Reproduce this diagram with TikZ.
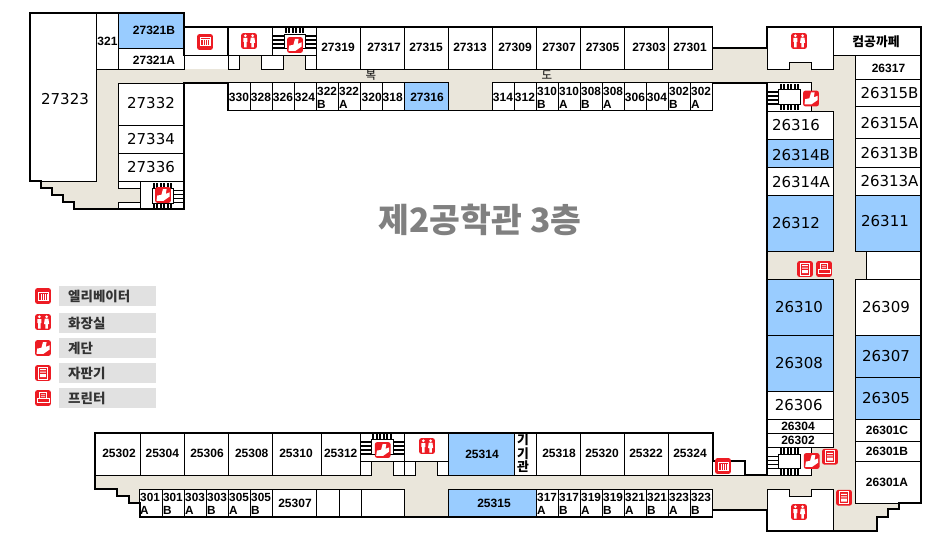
\documentclass[tikz,border=0pt]{standalone}
\usepackage{fontspec}
\setmainfont{Liberation Sans}
\newfontfamily\bigf{DejaVu Sans}
\newfontfamily\kr{Noto Sans CJK KR}
\definecolor{corr}{HTML}{EAE6DB}
\definecolor{blu}{HTML}{99CCFF}
\definecolor{ired}{HTML}{ED1C24}
\definecolor{leg}{HTML}{E1E1E1}
\definecolor{ttl}{HTML}{808080}
\tikzset{
  x=1pt,y=-1pt,
  wall/.style={draw=black,line width=1.7pt,line join=miter},
  rm/.style={draw=black,line width=0.9pt,fill=white},
  rb/.style={draw=black,line width=0.9pt,fill=blu},
  cor/.style={fill=corr,draw=none},
  big/.style={inner sep=0,font=\bigf\fontsize{15}{15}\selectfont},
  bld/.style={inner sep=0,font=\bfseries\fontsize{12}{12}\selectfont},
  two/.style={inner sep=0,anchor=west,font=\bfseries\fontsize{11.8}{12}\selectfont},
  krs/.style={inner sep=0,font=\kr\fontsize{11.5}{12}\selectfont},
  krb/.style={inner sep=0,font=\kr\bfseries\fontsize{12.8}{13}\selectfont},
  lgt/.style={inner sep=0,anchor=west,text=black!80,font=\kr\bfseries\fontsize{13.5}{14}\selectfont},
  title/.style={inner sep=0,text=ttl,font=\kr\bfseries\fontsize{33.5}{36}\selectfont},
  redbg/.style={fill=ired,draw=none,rounded corners=2pt},
  wg/.style={draw=white,line width=1pt},
  wf/.style={fill=white,draw=none}
}
\newcommand{\rr}[5]{\path[#1] (#2,#3) rectangle (#4,#5);}
\newcommand{\lab}[5]{\node[#4] (#1) at (#2,#3) {#5};}
\newcommand{\redsq}{\path[redbg] (-7.8,-7.8) rectangle (7.8,7.8);}
\newcommand{\icoElev}[2]{\begin{scope}[shift={(#1,#2)}]\redsq
  \path[wf] (-5.5,-4.5) rectangle (5.5,4.5);
  \path[fill=ired] (-4.5,-3.5) rectangle (4.5,-2.6);
  \foreach \u in {-3.6,-1.4,0.8,3}{\path[fill=ired] (\u,-2) rectangle +(1.1,5.5);}
  \end{scope}}
\newcommand{\icoWc}[2]{\begin{scope}[shift={(#1,#2)}]\redsq
  \path[wf] (-3.6,-5.2) circle (1.5) (3.6,-5.2) circle (1.5);
  \path[wf] (-5.6,-3) rectangle (-1.6,1) (-4.8,1) rectangle (-2.4,6.5);
  \path[wf] (3.6,-3.4) -- (5.4,-3.4) -- (6.2,2) -- (4.8,2) -- (4.8,6.5) -- (2.4,6.5) -- (2.4,2) -- (1,2) -- (1.8,-3.4) -- cycle;
  \end{scope}}
\newcommand{\icoStair}[2]{\begin{scope}[shift={(#1,#2)}]\redsq
  \path[wf] (-6.5,5.8) -- (-5.8,0.6) -- (-1.6,-0.2) -- (0,-6) -- (3.6,-6) -- (2.8,-1.2) -- (6.5,-2.6) -- (6.5,1.6) -- (0.5,5.8) -- cycle;
  \end{scope}}
\newcommand{\icoVend}[2]{\begin{scope}[shift={(#1,#2)}]\redsq
  \path[wg] (-4.8,-6) rectangle (4.8,6);
  \path[wf] (-2.8,-3.8) rectangle (2.8,-2.8) (-2.8,-1.4) rectangle (2.8,-0.4) (-2.8,1) rectangle (2.8,4);
  \end{scope}}
\newcommand{\icoPrint}[2]{\begin{scope}[shift={(#1,#2)}]\redsq
  \path[wg] (-3.6,-6) rectangle (3.6,0.8);
  \path[wg] (-6,0.8) rectangle (6,4.6);
  \path[wf] (-2.2,-3.6) rectangle (2.2,-2.8) (-2.2,-1.6) rectangle (2.2,-0.8);
  \end{scope}}
\newcommand{\stBox}{\path[draw=black,line width=0.8pt] (11.5,7) rectangle (33,21.5);}
\newcommand{\stT}{\foreach \i in {0,...,5}{\path[fill=black] (12.3+3.5*\i,1) rectangle +(2,5.5);}}
\newcommand{\stB}{\foreach \i in {0,...,5}{\path[fill=black] (12.3+3.5*\i,22) rectangle +(2,5.5);}}
\newcommand{\stL}{\foreach \j in {0,...,3}{\path[fill=black] (0.5,8.2+4*\j) rectangle +(10.5,1.7);}}
\newcommand{\stR}{\foreach \j in {0,...,3}{\path[fill=black] (33,8.2+4*\j) rectangle +(10.5,1.7);}}
\begin{document}
\begin{tikzpicture}
\useasboundingbox (0,0) rectangle (942,559);
% corridors
\rr{cor}{96.7}{69.5}{767.3}{82.7}
\rr{cor}{712.5}{48}{767.3}{82.7}
\rr{cor}{96.7}{69.5}{118.5}{209}
\rr{cor}{118.5}{188.5}{140.5}{202.5}
\path[cor] (41,181)--(118.5,181)--(118.5,209)--(74,209)--(74,202)--(63,202)--(63,195)--(52,195)--(52,188)--(41,188)--cycle;
\rr{cor}{228}{55.5}{316}{70}
\rr{cor}{448.3}{82}{492.5}{110.5}
\rr{cor}{767.3}{69.3}{855.5}{111.3}
\rr{cor}{789.3}{62}{811.5}{70}
\rr{cor}{833.7}{55.3}{855.5}{530.7}
\rr{cor}{767.3}{251.7}{866.3}{279.3}
\rr{cor}{95.3}{475.3}{767.3}{489.3}
\rr{cor}{712.7}{489}{767.3}{510}
\rr{cor}{745}{475}{767.3}{490}
\rr{cor}{767.3}{475.3}{855.5}{489.3}
\rr{cor}{811.7}{447.3}{855.5}{489.3}
\rr{cor}{789.3}{489}{811.5}{496.3}
\path[cor] (833.3,503.3)--(899,503.3)--(899,509.3)--(887.7,509.3)--(887.7,516.7)--(876.7,516.7)--(876.7,530.7)--(833.3,530.7)--cycle;
\path[cor] (95.3,489)--(139.7,489)--(139.7,503)--(129.3,503)--(129.3,496)--(117.3,496)--(117.3,489.3)--(95.3,489.3)--cycle;
\rr{cor}{371}{461.3}{393.3}{476}
\rr{cor}{415}{461.7}{437}{476}
\rr{cor}{404.7}{489}{448.3}{516.7}
% west rooms
\rr{rm}{30}{13}{96.7}{181}
\rr{rm}{96.7}{13}{118.5}{69.5}
\rr{rb}{118.5}{13}{184}{48.5}
\rr{rm}{118.5}{48.5}{184}{69.5}
\rr{rm}{118.5}{83}{184}{125.5}
\rr{rm}{118.5}{125.5}{184}{153.5}
\rr{rm}{118.5}{153.5}{184}{181.5}
\rr{rm}{118.5}{181.5}{140.5}{188.5}
\rr{rm}{118.5}{202.5}{140.5}{209}
\rr{rm}{140.5}{181.5}{184}{209}
% top service rooms
\rr{rm}{184}{27}{228}{55.5}
\rr{rm}{228}{27}{272.5}{55.5}
\rr{rm}{272.5}{27}{316.7}{55.5}
\rr{rm}{228.5}{55.5}{239.5}{69.5}
\rr{rm}{261.5}{55.5}{283.5}{69.5}
\rr{rm}{305.5}{55.5}{316.7}{69.5}
% top row
\foreach \a/\b in {316.7/360.7,360.7/404.7,404.7/448.7,448.7/492.7,492.7/536.7,536.7/580.7,580.7/624.7,624.7/668.7,668.7/712.5}{\rr{rm}{\a}{27}{\b}{69.5}}
% north lower row
\foreach \a/\b in {228/250.5,250.5/272.5,272.5/294.5,294.5/316.7,316.7/338.7,338.7/360.7,360.7/382.7,382.7/404.7,492.5/514.7,514.7/536.7,536.7/558.7,558.7/580.7,580.7/602.7,602.7/624.7,624.7/646.7,646.7/668.7,668.7/690.5,690.5/712.5}{\rr{rm}{\a}{82.7}{\b}{110.5}}
\rr{rb}{404.7}{82.7}{448.3}{110.5}
% east block
\rr{rm}{767.3}{27}{833.7}{69.3}
\path[cor] (789.3,62) rectangle (811.5,70);
\path[draw=black,line width=0.9pt] (767.3,69.3)--(789.3,69.3)--(789.3,62)--(811.5,62)--(811.5,69.3)--(833.7,69.3);
\rr{rm}{833.7}{27}{921}{55.3}
\rr{rm}{855.5}{55.3}{921}{79.3}
\rr{rm}{855.5}{79.3}{921}{106.7}
\rr{rm}{855.5}{106.7}{921}{138.3}
\rr{rm}{855.5}{138.3}{921}{167.3}
\rr{rm}{855.5}{167.3}{921}{195}
\rr{rb}{855.5}{195}{921}{251.7}
\rr{rm}{866.3}{251.7}{921}{279.3}
\rr{rm}{855.5}{279.3}{921}{335.7}
\rr{rb}{855.5}{335.7}{921}{377.7}
\rr{rb}{855.5}{377.7}{921}{419.3}
\rr{rm}{855.5}{419.3}{921}{441.7}
\rr{rm}{855.5}{441.7}{921}{461.3}
\rr{rm}{855.5}{461.3}{921}{503.3}
\rr{rm}{767.3}{82.7}{811.7}{111.3}
\rr{rm}{767.3}{111.3}{833.7}{139.5}
\rr{rb}{767.3}{139.5}{833.7}{167.3}
\rr{rm}{767.3}{167.3}{833.7}{195.3}
\rr{rb}{767.3}{195.3}{833.7}{251.7}
\rr{rb}{767.3}{279.3}{833.7}{335.3}
\rr{rb}{767.3}{335.3}{833.7}{391.3}
\rr{rm}{767.3}{391.3}{833.7}{419.3}
\rr{rm}{767.3}{419.3}{833.7}{433.3}
\rr{rm}{767.3}{433.3}{833.7}{447.3}
\rr{rm}{767.3}{447.3}{811.7}{475.3}
\rr{rm}{767.3}{489.3}{833.3}{530.7}
\path[cor] (789.3,489) rectangle (811.5,496.3);
\path[draw=black,line width=0.9pt] (789.3,489.3)--(789.3,496.3)--(811.5,496.3)--(811.5,489.3);
\path[draw=corr,line width=1pt] (789.8,489.3)--(811,489.3);
% south upper row
\foreach \a/\b in {95.3/140.3,140.3/184.7,184.7/228.5,228.5/272.3,272.3/321.5,321.5/360,536.7/580.7,580.7/624.7,624.7/668.7,668.7/712.7}{\rr{rm}{\a}{432.7}{\b}{475.3}}
\rr{rm}{360}{432.7}{404.7}{461.3}
\rr{rm}{360}{461.3}{371}{475.3}
\rr{rm}{393.3}{461.3}{404.7}{475.3}
\rr{rm}{404.7}{432.7}{448.3}{461.7}
\rr{cor}{415}{461.7}{437}{475.3}
\rr{rm}{404.7}{461.7}{415}{475.3}
\rr{rm}{437}{461.7}{448.3}{475.3}
\path[draw=black,line width=0.9pt] (415,461.7)--(437,461.7);
\rr{rb}{448.3}{432.7}{514.5}{475.3}
\rr{rm}{514.5}{432.7}{536.7}{475.3}
\rr{rm}{712.7}{460.7}{745}{475.3}
% south lower row
\foreach \a/\b in {139.7/162.7,162.7/184.7,184.7/206.7,206.7/228.7,228.7/250.7,250.7/272.7,272.7/316.7,316.7/339.7,339.7/361.7,361.7/404.7,536.7/558.7,558.7/580.7,580.7/602.7,602.7/624.7,624.7/646.7,646.7/668.7,668.7/690.7,690.7/712.7}{\rr{rm}{\a}{489.3}{\b}{516.7}}
\rr{rb}{448.3}{489.3}{536.7}{516.7}
% stairs
\begin{scope}[shift={(272.5,27)}]\stBox\stT\stL\stR\end{scope}
\begin{scope}[shift={(140.5,181.5)}]\stBox\stT\stB\stR\end{scope}
\begin{scope}[shift={(767.3,82.7)}]\stBox\stT\stB\stL\end{scope}
\begin{scope}[shift={(767.3,447.3)}]\stBox\stT\stB\stL\end{scope}
\begin{scope}[shift={(360,432.7)}]\stBox\stT\stL\stR\end{scope}
% walls
\path[wall] (712.5,48)--(712.5,27)--(184,27)--(184,13)--(30,13)--(30,181)--(41,181)--(41,188)--(52,188)--(52,195)--(63,195)--(63,202)--(74,202)--(74,209)--(184,209)--(184,83)--(228,83)--(228,110.5)--(712.5,110.5)--(712.5,82.7)--(767.3,82.7)--(767.3,475.3)--(745,475.3)--(745,460.7)--(712.7,460.7)--(712.7,432.7)--(95.3,432.7)--(95.3,489.3)--(117.3,489.3)--(117.3,496)--(129.3,496)--(129.3,503)--(139.7,503)--(139.7,516.7)--(712.7,516.7);
\path[wall] (184,27)--(184,55.5)--(228,55.5)--(228,27);
\path[wall] (712.5,48)--(767.3,48)--(767.3,27)--(921,27)--(921,503.3)--(899,503.3)--(899,509.3)--(887.7,509.3)--(887.7,516.7)--(876.7,516.7)--(876.7,530.7)--(767.3,530.7)--(767.3,510)--(712.7,510);
% icons
\icoElev{205}{42}\icoWc{249}{41}\icoStair{295}{45}\icoStair{163}{195}
\icoWc{799}{41}\icoStair{811}{98.5}
\icoVend{805}{269}\icoPrint{824}{269}
\icoStair{811.7}{461}\icoVend{830}{456.7}\icoVend{844}{497.7}
\icoWc{799}{512}\icoElev{723}{466}
\icoStair{382.7}{450}\icoWc{427}{446}
% legend
\rr{fill=leg}{59}{286}{156}{306}
\rr{fill=leg}{59}{313}{156}{333}
\rr{fill=leg}{59}{338}{156}{358}
\rr{fill=leg}{59}{363}{156}{383}
\rr{fill=leg}{59}{388}{156}{408}
\icoElev{43}{296}\icoWc{43}{322}\icoStair{43}{348}\icoVend{43}{373}\icoPrint{43}{398}
\lab{lg1}{68}{296}{lgt}{엘리베이터}
\lab{lg2}{68}{323}{lgt}{화장실}
\lab{lg3}{68}{348}{lgt}{계단}
\lab{lg4}{68}{373}{lgt}{자판기}
\lab{lg5}{68}{398}{lgt}{프린터}
% title
\lab{ttl}{480}{220}{title}{제2공학관 3층}
\lab{bok}{371}{75.5}{krs}{복}
\lab{do}{547}{75.5}{krs}{도}
% big labels
\foreach \t/\x/\y in {27323/65/99.5,27332/151/103.5,27334/151/139.5,27336/151/167.5,26316/796/125.5,26314B/801/155,26314A/801/182,26312/796/223,26311/885/221,26315B/889.5/92.7,26315A/889.5/123,26313B/889.5/152.7,26313A/889.5/180.7,26310/799/307,26308/799/362.7,26309/886/307,26307/886/355.7,26305/886/398,26306/798.7/405.3}{\node[big] (n\t) at (\x,\y) {\t};}
% bold labels
\foreach \t/\x/\y in {321/107.5/41.5,27321B/154/30.5,27321A/154/60.5,27319/338/47,27317/384/47,27315/426/47,27313/470/47,27309/515/47,27307/559/47,27305/602.5/47,27303/649/47,27301/690/47,27316/427/97,330/239/97,328/261/97,326/283/97,324/305/97,320/371.7/97,318/392.7/97,314/503/97,312/525/97,306/635/97,304/657/97,26317/888.5/68.7,26304/798/426.5,26302/798/440.7,26301C/887/430,26301B/887/451,26301A/887/482.7,25302/119/453.7,25304/162.3/453.7,25306/207/453.7,25308/251.7/453.7,25310/296/453.7,25312/340.7/453.7,25314/482/454,25318/559/453.7,25320/602/453.7,25322/646/453.7,25324/690/453.7,25315/494/503,25307/295/503}{\node[bld] (n\t) at (\x,\y) {\t};}
\lab{cafe}{876}{41.7}{krb}{컴공까페}
\lab{gi1}{523}{440}{krb}{기}
\lab{gi2}{523}{453.3}{krb}{기}
\lab{gi3}{523}{466.7}{krb}{관}
% two line labels, north
\foreach \x/\a/\b in {317/322/B,339/322/A,537/310/B,559/310/A,581/308/B,603/308/A,669/302/B,691/302/A}{
  \node[two] (n\a\b t) at (\x,91.7) {\a};
  \node[two] (n\a\b u) at (\x,104.3) {\b};}
% two line labels, south
\foreach \x/\a/\b in {140/301/A,162.9/301/B,185/303/A,207/303/B,229/305/A,251/305/B,537/317/A,559/317/B,581/319/A,603/319/B,625/321/A,647/321/B,669/323/A,691/323/B}{
  \node[two] (s\a\b t) at (\x,497.7) {\a};
  \node[two] (s\a\b u) at (\x,510.7) {\b};}
\end{tikzpicture}
\end{document}
